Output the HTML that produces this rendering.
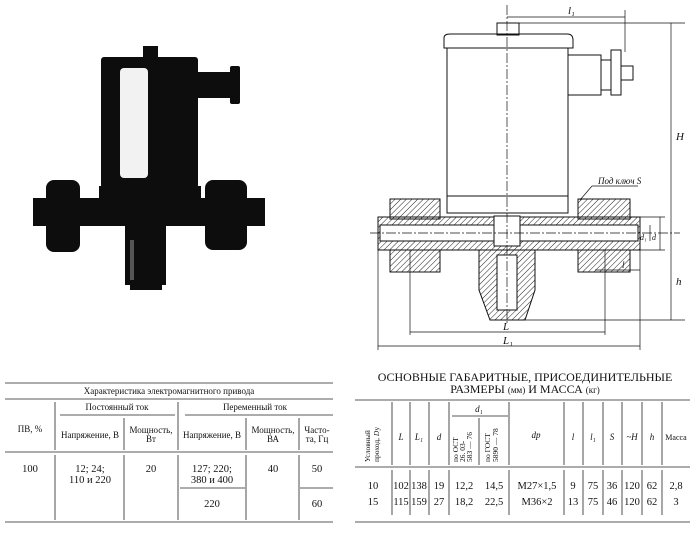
<!DOCTYPE html>
<html><head><meta charset="utf-8"><style>
body{margin:0;background:#fff}
svg{display:block}
text{font-family:"Liberation Serif","Noto Serif CJK SC",serif;fill:#111}
</style></head><body>
<svg width="696" height="534" viewBox="0 0 696 534" xmlns="http://www.w3.org/2000/svg">
<defs>
<pattern id="h" width="4" height="4" patternUnits="userSpaceOnUse" patternTransform="rotate(45)"><line x1="0" y1="0" x2="0" y2="4" stroke="#222" stroke-width="1"/></pattern>
</defs>
<!-- Photo -->
<g fill="#0d0d0d">
<rect x="143" y="46" width="15" height="12"/>
<rect x="101" y="57" width="97" height="131" rx="3"/>
<rect x="196" y="72" width="34" height="26"/>
<rect x="230" y="66" width="10" height="38" rx="2"/>
<rect x="99" y="186" width="102" height="20"/>
<rect x="33" y="198" width="232" height="28"/>
<rect x="46" y="180" width="34" height="72" rx="8"/>
<rect x="205" y="180" width="42" height="70" rx="8"/>
<rect x="125" y="225" width="41" height="60"/>
<rect x="130" y="283" width="32" height="7"/>
</g>
<rect x="120" y="68" width="28" height="110" fill="#f2f2f2" rx="4"/>
<rect x="130" y="240" width="4" height="40" fill="#555"/>
<!-- Drawing -->
<g fill="none" stroke="#111" stroke-width="1">
<rect x="497" y="23" width="22" height="12"/>
<path d="M444 38 Q444 34 450 34 L567 34 Q573 34 573 40 L573 48 L444 48 Z"/>
<rect x="447" y="48" width="121" height="148"/>
<rect x="447" y="196" width="121" height="17"/>
<rect x="568" y="55" width="33" height="40"/>
<rect x="601" y="60" width="10" height="30"/>
<rect x="611" y="50" width="10" height="45" fill="#fff"/>
<rect x="621" y="66" width="12" height="14"/>
</g>
<g stroke="#111" stroke-width="1">
<rect x="378" y="217" width="262" height="33" fill="url(#h)"/>
<rect x="390" y="199" width="50" height="20" fill="url(#h)"/>
<rect x="390" y="250" width="50" height="22" fill="url(#h)"/>
<rect x="578" y="199" width="52" height="20" fill="url(#h)"/>
<rect x="578" y="250" width="52" height="22" fill="url(#h)"/>
<path d="M479 250 L535 250 L535 290 L525 320 L490 320 L479 290 Z" fill="url(#h)"/>
<rect x="380" y="225" width="258" height="16" fill="#fff"/>
<rect x="494" y="216" width="26" height="30" fill="#fff"/>
<rect x="497" y="255" width="20" height="55" fill="#fff"/>
</g>
<g stroke="#111" stroke-width="0.7" fill="none">
<line x1="507" y1="5" x2="507" y2="325" stroke-dasharray="10,2,2,2"/>
<line x1="370" y1="233" x2="680" y2="233" stroke-dasharray="10,2,2,2"/>
<line x1="507" y1="17" x2="625" y2="17"/><line x1="625" y1="10" x2="625" y2="52"/>
<line x1="519" y1="23" x2="685" y2="23"/>
<line x1="671" y1="23" x2="671" y2="320"/>
<line x1="490" y1="320" x2="685" y2="320"/>
<line x1="640" y1="250" x2="665" y2="250"/><line x1="640" y1="217" x2="665" y2="217"/>
<line x1="660" y1="217" x2="660" y2="250"/><line x1="650" y1="225" x2="650" y2="241"/>
<line x1="410" y1="250" x2="410" y2="335"/><line x1="605" y1="250" x2="605" y2="335"/>
<line x1="378" y1="250" x2="378" y2="350"/><line x1="640" y1="250" x2="640" y2="350"/>
<line x1="410" y1="332" x2="605" y2="332"/>
<line x1="378" y1="346" x2="640" y2="346"/>
<line x1="595" y1="270" x2="640" y2="270"/>
<line x1="592" y1="186" x2="638" y2="186"/><line x1="592" y1="186" x2="580" y2="200"/>
</g>
<g font-style="italic" font-size="11">
<text x="568" y="14">l₁</text>
<text x="676" y="140">H</text>
<text x="676" y="285">h</text>
<text x="503" y="330">L</text>
<text x="503" y="344">L₁</text>
<text x="622" y="268" font-size="9">l</text>
<text x="598" y="184" font-size="9">Под ключ S</text>
<text x="640" y="240" font-size="8">d₁</text>
<text x="652" y="240" font-size="8">d</text>
</g>
<!-- Left table -->
<g stroke="#222" stroke-width="0.8">
<line x1="5" y1="383" x2="333" y2="383"/>
<line x1="5" y1="399" x2="333" y2="399"/>
<line x1="60" y1="415" x2="175" y2="415"/>
<line x1="185" y1="415" x2="333" y2="415"/>
<line x1="5" y1="452" x2="333" y2="452"/>
<line x1="180" y1="488" x2="245" y2="488"/>
<line x1="300" y1="488" x2="333" y2="488"/>
<line x1="5" y1="522" x2="333" y2="522"/>
<line x1="55" y1="402" x2="55" y2="450"/><line x1="55" y1="455" x2="55" y2="520"/>
<line x1="124" y1="418" x2="124" y2="450"/><line x1="124" y1="455" x2="124" y2="520"/>
<line x1="178" y1="402" x2="178" y2="450"/><line x1="178" y1="455" x2="178" y2="520"/>
<line x1="246" y1="418" x2="246" y2="450"/><line x1="246" y1="455" x2="246" y2="520"/>
<line x1="299" y1="418" x2="299" y2="450"/><line x1="299" y1="455" x2="299" y2="520"/>
</g>
<g font-size="9" text-anchor="middle">
<text x="169" y="394">Характеристика электромагнитного привода</text>
<text x="117" y="410">Постоянный ток</text>
<text x="255" y="410">Переменный ток</text>
<text x="30" y="432">ПВ, %</text>
<text x="90" y="438">Напряжение, В</text>
<text x="151" y="433">Мощность,</text><text x="151" y="442">Вт</text>
<text x="212" y="438">Напряжение, В</text>
<text x="273" y="433">Мощность,</text><text x="273" y="442">ВА</text>
<text x="317" y="433">Часто-</text><text x="317" y="442">та, Гц</text>
</g>
<g font-size="10.5" text-anchor="middle">
<text x="30" y="472">100</text>
<text x="90" y="472">12; 24;</text><text x="90" y="483">110 и 220</text>
<text x="151" y="472">20</text>
<text x="212" y="472">127; 220;</text><text x="212" y="483">380 и 400</text>
<text x="212" y="507">220</text>
<text x="273" y="472">40</text>
<text x="317" y="472">50</text>
<text x="317" y="507">60</text>
</g>
<!-- Right table -->
<g font-size="12" text-anchor="middle">
<text x="525" y="381">ОСНОВНЫЕ ГАБАРИТНЫЕ, ПРИСОЕДИНИТЕЛЬНЫЕ</text>
<text x="525" y="393">РАЗМЕРЫ <tspan font-size="9">(мм)</tspan> И МАССА <tspan font-size="9">(кг)</tspan></text>
</g>
<g stroke="#222" stroke-width="0.8">
<line x1="355" y1="400" x2="690" y2="400"/>
<line x1="452" y1="416" x2="508" y2="416"/>
<line x1="355" y1="467" x2="690" y2="467"/>
<line x1="355" y1="522" x2="690" y2="522"/>
<line x1="392" y1="402" x2="392" y2="465"/><line x1="392" y1="470" x2="392" y2="515"/>
<line x1="410" y1="402" x2="410" y2="465"/><line x1="410" y1="470" x2="410" y2="515"/>
<line x1="429" y1="402" x2="429" y2="465"/><line x1="429" y1="470" x2="429" y2="515"/>
<line x1="449" y1="402" x2="449" y2="465"/><line x1="449" y1="470" x2="449" y2="515"/>
<line x1="479" y1="418" x2="479" y2="465"/>
<line x1="509" y1="402" x2="509" y2="465"/><line x1="509" y1="470" x2="509" y2="515"/>
<line x1="564" y1="402" x2="564" y2="465"/><line x1="564" y1="470" x2="564" y2="515"/>
<line x1="583" y1="402" x2="583" y2="465"/><line x1="583" y1="470" x2="583" y2="515"/>
<line x1="603" y1="402" x2="603" y2="465"/><line x1="603" y1="470" x2="603" y2="515"/>
<line x1="622" y1="402" x2="622" y2="465"/><line x1="622" y1="470" x2="622" y2="515"/>
<line x1="642" y1="402" x2="642" y2="465"/><line x1="642" y1="470" x2="642" y2="515"/>
<line x1="662" y1="402" x2="662" y2="465"/><line x1="662" y1="470" x2="662" y2="515"/>
</g>
<g font-size="7.5">
<text transform="translate(370,462) rotate(-90)">Условный</text>
<text transform="translate(379,462) rotate(-90)">проход, <tspan font-style="italic">D</tspan>у</text>
<text transform="translate(458,462) rotate(-90)">по ОСТ</text>
<text transform="translate(465,462) rotate(-90)">26. 03-</text>
<text transform="translate(472,462) rotate(-90)">583 — 76</text>
<text transform="translate(490,462) rotate(-90)">по ГОСТ</text>
<text transform="translate(498,462) rotate(-90)">5890 — 78</text>
</g>
<g font-size="9" font-style="italic" text-anchor="middle">
<text x="401" y="440">L</text><text x="419" y="440">L₁</text><text x="439" y="440">d</text>
<text x="479" y="412">d₁</text><text x="536" y="438">dp</text>
<text x="573" y="440">l</text><text x="593" y="440">l₁</text><text x="612" y="440">S</text>
<text x="632" y="440">~H</text><text x="652" y="440">h</text>
<text x="676" y="440" font-style="normal" font-size="8">Масса</text>
</g>
<g font-size="10.5" text-anchor="middle">
<text x="373" y="489">10</text><text x="401" y="489">102</text><text x="419" y="489">138</text><text x="439" y="489">19</text>
<text x="464" y="489">12,2</text><text x="494" y="489">14,5</text><text x="537" y="489">M27×1,5</text>
<text x="573" y="489">9</text><text x="593" y="489">75</text><text x="612" y="489">36</text><text x="632" y="489">120</text><text x="652" y="489">62</text><text x="676" y="489">2,8</text>
<text x="373" y="505">15</text><text x="401" y="505">115</text><text x="419" y="505">159</text><text x="439" y="505">27</text>
<text x="464" y="505">18,2</text><text x="494" y="505">22,5</text><text x="537" y="505">M36×2</text>
<text x="573" y="505">13</text><text x="593" y="505">75</text><text x="612" y="505">46</text><text x="632" y="505">120</text><text x="652" y="505">62</text><text x="676" y="505">3</text>
</g>
</svg>
</body></html>
